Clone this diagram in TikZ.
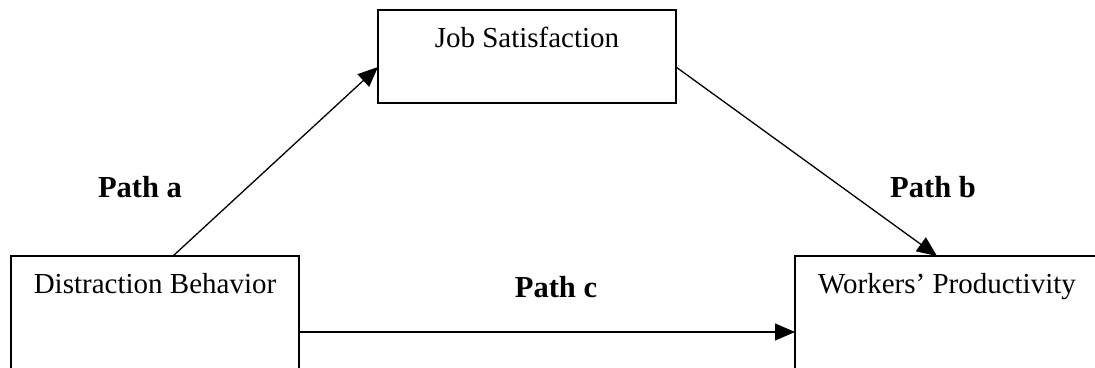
\documentclass[tikz,border=0pt]{standalone}
\usepackage{fontspec}
\setmainfont{Liberation Serif}
\usetikzlibrary{arrows.meta}
\begin{document}
\begin{tikzpicture}[x=1pt,y=-1pt,
  box/.style={draw, line width=1.5pt, inner sep=0pt, outer sep=0pt},
  conn/.style={line width=1.3pt, -{Triangle[length=20pt,width=17pt]}},
  lab/.style={font=\fontsize{29}{34}\selectfont, inner sep=0pt},
  plab/.style={font=\fontsize{30.5}{36}\selectfont\bfseries, inner sep=0pt}]
\path[use as bounding box, clip] (0,0) rectangle (1095,367);
\node[box, minimum width=298pt, minimum height=93pt] (js) at (527,56.5) {};
\node[box, minimum width=288pt, minimum height=152pt] (db) at (155,332) {};
\node[box, minimum width=304pt, minimum height=152pt] (wp) at (947,332) {};
\node[lab, anchor=base] (jst) at (527,47) {Job Satisfaction};
\node[lab, anchor=base] (dbt) at (155,293) {Distraction Behavior};
\node[lab, anchor=base] (wpt) at (947,293) {Workers’ Productivity};
\node[plab, anchor=base] (pa) at (140,197) {Path a};
\node[plab, anchor=base] (pb) at (933,197) {Path b};
\node[plab, anchor=base] (pc) at (556,297) {Path c};
\draw[conn] ([xshift=162pt]db.north west) -- ([yshift=-10.5pt]js.west);
\draw[conn] ([yshift=-10.5pt]js.east) -- ([xshift=142pt]wp.north west);
\draw[conn] (db.east) -- (wp.west);
\end{tikzpicture}
\end{document}
